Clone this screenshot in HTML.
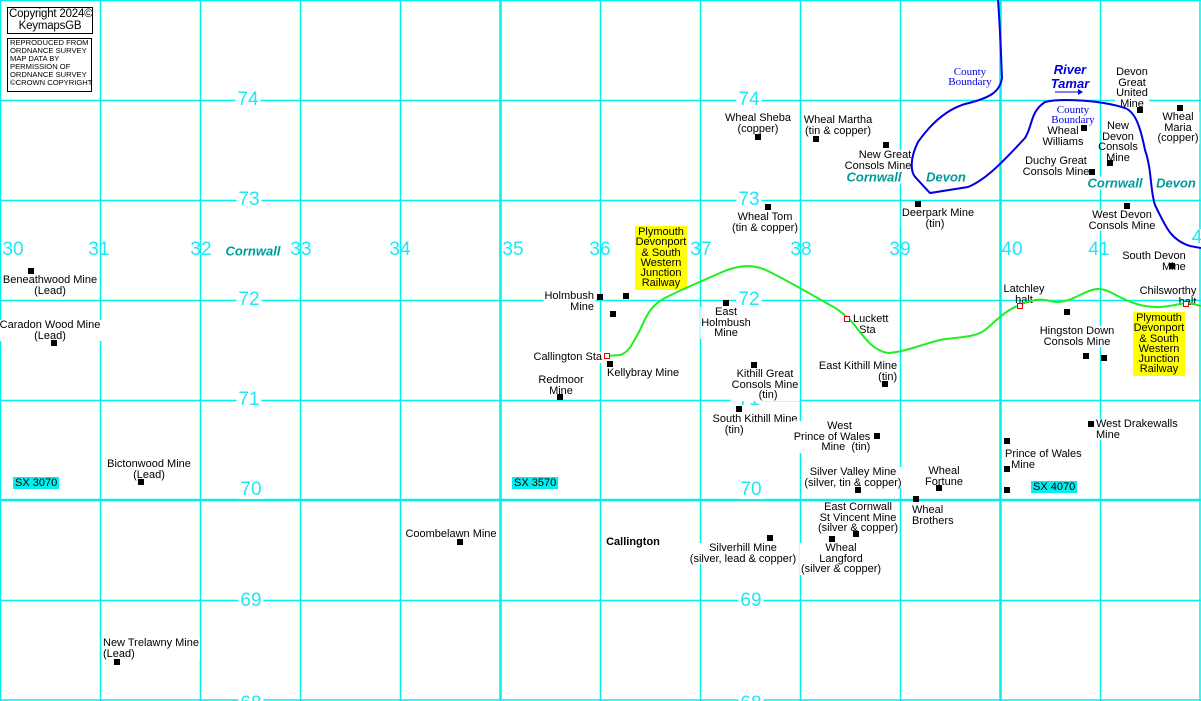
<!DOCTYPE html>
<html><head><meta charset="utf-8"><style>
html,body{margin:0;width:1201px;height:701px;overflow:hidden;background:#fff;position:relative;font-family:"Liberation Sans",sans-serif}
svg{position:absolute;left:0;top:0}
.c,.L,.R{position:absolute;font:11px/10.5px "Liberation Sans",sans-serif;white-space:pre;background:#fff;color:#000;text-align:center;padding:0 1px;margin-top:1px}
.c{transform:translateX(-50%)}
.L{text-align:left}
.R{transform:translateX(-100%);text-align:right}
.s{position:absolute;width:6px;height:6px;background:#000;margin:-3px 0 0 -3px}
.n{position:absolute;font:19px/18px "Liberation Sans",sans-serif;color:#1ee8f0;background:#fff;padding:0 2px;transform:translate(-50%,-50%)}
.n2{position:absolute;font:19px/18px "Liberation Sans",sans-serif;color:#1ee8f0;transform:translate(-50%,-50%)}
.t{position:absolute;font:italic bold 13px/13px "Liberation Sans",sans-serif;color:#009a9a;transform:translate(-50%,-50%);background:#fff;padding:0 2px}
.cb{position:absolute;font:11px/10px "Liberation Serif",serif;color:#0000e0;text-align:center;transform:translateX(-50%);white-space:pre}
.sx{position:absolute;background:#00f0f0;font:11px/12px "Liberation Sans",sans-serif;padding:0 2px;height:12px}
.y{position:absolute;background:#ffff00;font:11px/10.3px "Liberation Sans",sans-serif;text-align:center;white-space:pre;padding-top:1px}
#top{z-index:2}
</style></head><body>
<svg width="1201" height="701">
<g stroke="#00f0f0" stroke-width="1.5">
<line x1="0.5" y1="0" x2="0.5" y2="701"/><line x1="100.5" y1="0" x2="100.5" y2="701"/><line x1="200.5" y1="0" x2="200.5" y2="701"/><line x1="300.5" y1="0" x2="300.5" y2="701"/><line x1="400.5" y1="0" x2="400.5" y2="701"/><line x1="500.5" y1="0" x2="500.5" y2="701" stroke-width="2.5"/><line x1="600.5" y1="0" x2="600.5" y2="701"/><line x1="700.5" y1="0" x2="700.5" y2="701"/><line x1="800.5" y1="0" x2="800.5" y2="701"/><line x1="900.5" y1="0" x2="900.5" y2="701"/><line x1="1000.5" y1="0" x2="1000.5" y2="701" stroke-width="2.5"/><line x1="1100.5" y1="0" x2="1100.5" y2="701"/><line x1="1200" y1="0" x2="1200" y2="701"/>
<line x1="0" y1="0.5" x2="1201" y2="0.5"/><line x1="0" y1="100.5" x2="1201" y2="100.5"/><line x1="0" y1="200.5" x2="1201" y2="200.5"/><line x1="0" y1="300.5" x2="1201" y2="300.5"/><line x1="0" y1="400.5" x2="1201" y2="400.5"/><line x1="0" y1="500" x2="1201" y2="500" stroke-width="2.5"/><line x1="0" y1="600.5" x2="1201" y2="600.5"/><line x1="0" y1="700" x2="1201" y2="700"/>
</g>
<rect x="7.5" y="7.5" width="85" height="26" fill="#fff" stroke="#000"/>
<rect x="7.5" y="38.5" width="84" height="53" fill="#fff" stroke="#000"/>
</svg>
<div class="L" style="left:8px;top:8px;margin:0;background:none;font-size:11.5px;line-height:12px;text-align:center;width:82px;letter-spacing:-0.2px">Copyright 2024©
KeymapsGB</div>
<div class="L" style="left:9px;top:39px;margin:0;background:none;font-size:7.6px;line-height:8px">REPRODUCED FROM
ORDNANCE SURVEY
MAP DATA BY
PERMISSION OF
ORDNANCE SURVEY
©CROWN COPYRIGHT</div>

<div class="n" style="left:248px;top:100px">74</div><div class="n" style="left:249px;top:200px">73</div><div class="n" style="left:249px;top:300px">72</div><div class="n" style="left:249px;top:400px">71</div><div class="n" style="left:251px;top:490px">70</div><div class="n" style="left:251px;top:601px">69</div><div class="n" style="left:251px;top:704px">68</div>
<div class="n" style="left:749px;top:100px">74</div><div class="n" style="left:749px;top:200px">73</div><div class="n" style="left:749px;top:300px">72</div><div class="n" style="left:749px;top:400px">71</div><div class="n" style="left:751px;top:490px">70</div><div class="n" style="left:751px;top:601px">69</div><div class="n" style="left:751px;top:704px">68</div>
<div class="n2" style="left:13px;top:250px">30</div><div class="n2" style="left:99px;top:250px">31</div><div class="n2" style="left:201px;top:250px">32</div><div class="n2" style="left:301px;top:250px">33</div><div class="n2" style="left:400px;top:250px">34</div><div class="n2" style="left:513px;top:250px">35</div><div class="n2" style="left:600px;top:250px">36</div><div class="n2" style="left:701px;top:250px">37</div><div class="n2" style="left:801px;top:250px">38</div><div class="n2" style="left:900px;top:250px">39</div><div class="n2" style="left:1012px;top:250px">40</div><div class="n2" style="left:1099px;top:250px">41</div><div class="n2" style="left:1197px;top:238px;background:#fff">4</div>

<div class="t" style="left:253px;top:251px">Cornwall</div>
<div class="t" style="left:874px;top:177px">Cornwall</div><div class="t" style="left:946px;top:177px">Devon</div>
<div class="t" style="left:1115px;top:183px">Cornwall</div><div class="t" style="left:1176px;top:183px">Devon</div>
<div class="cb" style="left:970px;top:67px">County
Boundary</div>
<div class="cb" style="left:1073px;top:105px">County
Boundary</div>
<div style="position:absolute;left:1070px;top:63px;transform:translateX(-50%);font:italic bold 13px/14px 'Liberation Sans',sans-serif;color:#0000e0;text-align:center;white-space:pre">River
Tamar</div>

<div class="sx" style="left:13px;top:477px">SX 3070</div>
<div class="sx" style="left:512px;top:477px">SX 3570</div>
<div class="sx" style="left:1031px;top:481px">SX 4070</div>

<div class="y" style="left:635px;top:226px;width:52px;height:63px">Plymouth
Devonport
&amp; South
Western
Junction
Railway</div>
<div class="y" style="left:1133px;top:312px;width:52px;height:63px">Plymouth
Devonport
&amp; South
Western
Junction
Railway</div>

<div class="c" style="left:50px;top:274px">Beneathwood Mine
(Lead)</div><div class="s" style="left:31px;top:271px"></div>
<div class="c" style="left:50px;top:319px">Caradon Wood Mine
(Lead)</div><div class="s" style="left:54px;top:343px"></div>
<div class="c" style="left:149px;top:458px">Bictonwood Mine
(Lead)</div><div class="s" style="left:141px;top:482px"></div>
<div class="L" style="left:102px;top:637px">New Trelawny Mine
(Lead)</div><div class="s" style="left:117px;top:662px"></div>
<div class="c" style="left:451px;top:528px">Coombelawn Mine</div><div class="s" style="left:460px;top:542px"></div>
<div class="c" style="left:633px;top:536px;font-weight:bold">Callington</div>
<div class="R" style="left:595px;top:290px">Holmbush
Mine</div><div class="s" style="left:600px;top:297px"></div><div class="s" style="left:626px;top:296px"></div><div class="s" style="left:613px;top:314px"></div>
<div class="R" style="left:603px;top:351px">Callington Sta</div>
<div class="L" style="left:606px;top:367px">Kellybray Mine</div><div class="s" style="left:610px;top:364px"></div>
<div class="c" style="left:561px;top:374px">Redmoor
Mine</div><div class="s" style="left:560px;top:397px"></div>
<div class="c" style="left:758px;top:112px">Wheal Sheba
(copper)</div><div class="s" style="left:758px;top:137px"></div>
<div class="c" style="left:838px;top:114px">Wheal Martha
(tin &amp; copper)</div><div class="s" style="left:816px;top:139px"></div>
<div class="c" style="left:878px;top:149px;text-align:right">  New Great
Consols Mine</div><div class="s" style="left:886px;top:145px"></div>
<div class="c" style="left:765px;top:211px">Wheal Tom
(tin &amp; copper)</div><div class="s" style="left:768px;top:207px"></div>
<div class="c" style="left:938px;top:207px">Deerpark Mine
(tin)  </div><div class="s" style="left:918px;top:204px"></div>
<div class="c" style="left:726px;top:306px">East
Holmbush
Mine</div><div class="s" style="left:726px;top:303px"></div>
<div class="L" style="left:852px;top:313px;background:none">Luckett
  Sta</div>
<div class="c" style="left:765px;top:368px">Kithill Great
Consols Mine
  (tin)</div><div class="s" style="left:754px;top:365px"></div>
<div class="c" style="left:858px;top:360px;text-align:right;background:none">East Kithill Mine
(tin)</div><div class="s" style="left:885px;top:384px"></div>
<div class="c" style="left:755px;top:413px;text-align:left">South Kithill Mine
    (tin)</div><div class="s" style="left:739px;top:409px"></div>
<div class="c" style="left:832px;top:420px;text-align:right">West      
Prince of Wales
Mine  (tin)</div><div class="s" style="left:877px;top:436px"></div>
<div class="c" style="left:853px;top:466px">Silver Valley Mine
(silver, tin &amp; copper)</div><div class="s" style="left:858px;top:490px"></div>
<div class="c" style="left:944px;top:465px">Wheal
Fortune</div><div class="s" style="left:939px;top:488px"></div>
<div class="L" style="left:911px;top:504px">Wheal
Brothers</div><div class="s" style="left:916px;top:499px"></div>
<div class="c" style="left:858px;top:501px">East Cornwall
St Vincent Mine
(silver &amp; copper)</div><div class="s" style="left:856px;top:534px"></div>
<div class="c" style="left:841px;top:542px">Wheal
Langford
(silver &amp; copper)</div><div class="s" style="left:832px;top:539px"></div>
<div class="c" style="left:743px;top:542px">Silverhill Mine
(silver, lead &amp; copper)</div><div class="s" style="left:770px;top:538px"></div>
<div class="L" style="left:1004px;top:448px">Prince of Wales
  Mine</div><div class="s" style="left:1007px;top:441px"></div><div class="s" style="left:1007px;top:469px"></div><div class="s" style="left:1007px;top:490px"></div>
<div class="L" style="left:1095px;top:418px">West Drakewalls
Mine</div><div class="s" style="left:1091px;top:424px"></div>
<div class="c" style="left:1077px;top:325px">Hingston Down
Consols Mine</div><div class="s" style="left:1067px;top:312px"></div><div class="s" style="left:1086px;top:356px"></div><div class="s" style="left:1104px;top:358px"></div>
<div class="c" style="left:1024px;top:283px;background:none">Latchley
halt</div>
<div class="c" style="left:1168px;top:285px;text-align:right;background:none">Chilsworthy
halt</div>
<div class="c" style="left:1154px;top:250px;text-align:right">South Devon
Mine</div><div class="s" style="left:1172px;top:266px"></div>
<div class="c" style="left:1122px;top:209px">West Devon
Consols Mine</div><div class="s" style="left:1127px;top:206px"></div>
<div class="c" style="left:1056px;top:155px">Duchy Great
Consols Mine</div><div class="s" style="left:1092px;top:172px"></div>
<div class="c" style="left:1063px;top:125px;background:none">Wheal
Williams</div><div class="s" style="left:1084px;top:128px"></div>
<div class="c" style="left:1118px;top:120px;background:none">New
Devon
Consols
Mine</div><div class="s" style="left:1110px;top:163px"></div>
<div class="c" style="left:1132px;top:66px">Devon
Great
United
Mine</div><div class="s" style="left:1140px;top:110px"></div>
<div class="c" style="left:1178px;top:111px">Wheal
Maria
(copper)</div><div class="s" style="left:1180px;top:108px"></div>

<svg id="top" width="1201" height="701">
<path d="M998,0 C1000,25 1001,55 1002,78 C1000,92 990,98 965,104 C945,110 930,125 918,142 C910,158 910,172 916,178 L930,193 L968,187 C985,180 1000,165 1025,138 C1033,125 1030,112 1045,102 C1060,98 1100,100 1125,108 C1135,112 1140,125 1145,150 C1152,170 1150,190 1155,205 C1165,225 1170,240 1190,246 L1201,248" fill="none" stroke="#0000e0" stroke-width="2"/>
<line x1="1055" y1="92" x2="1080" y2="92" stroke="#0000e0" stroke-width="1"/><path d="M1078,89 L1083,92 L1078,95Z" fill="#0000e0"/>
<path d="M607,356 L620,355 C628,353 632,345 640,330 C648,312 652,305 665,298 C680,290 700,282 720,273 C740,264 755,264 770,272 C790,282 810,294 830,305 C840,310 848,318 852,322 C865,338 872,350 888,353 C905,352 920,345 940,340 C955,337 975,338 985,330 C995,322 1005,310 1020,305 C1030,300 1040,298 1050,301 C1060,304 1070,300 1080,295 C1090,290 1098,286 1110,292 C1125,300 1140,308 1160,307 C1175,306 1180,303 1190,303 L1201,306" fill="none" stroke="#22ee22" stroke-width="2"/>
<g fill="#fff" stroke="#e00" stroke-width="1">
<rect x="604.5" y="353.5" width="5" height="5"/><rect x="844.5" y="316.5" width="5" height="5"/><rect x="1017.5" y="303.5" width="5" height="5"/><rect x="1183.5" y="301.5" width="5" height="5"/>
</g>
</svg>
</body></html>
